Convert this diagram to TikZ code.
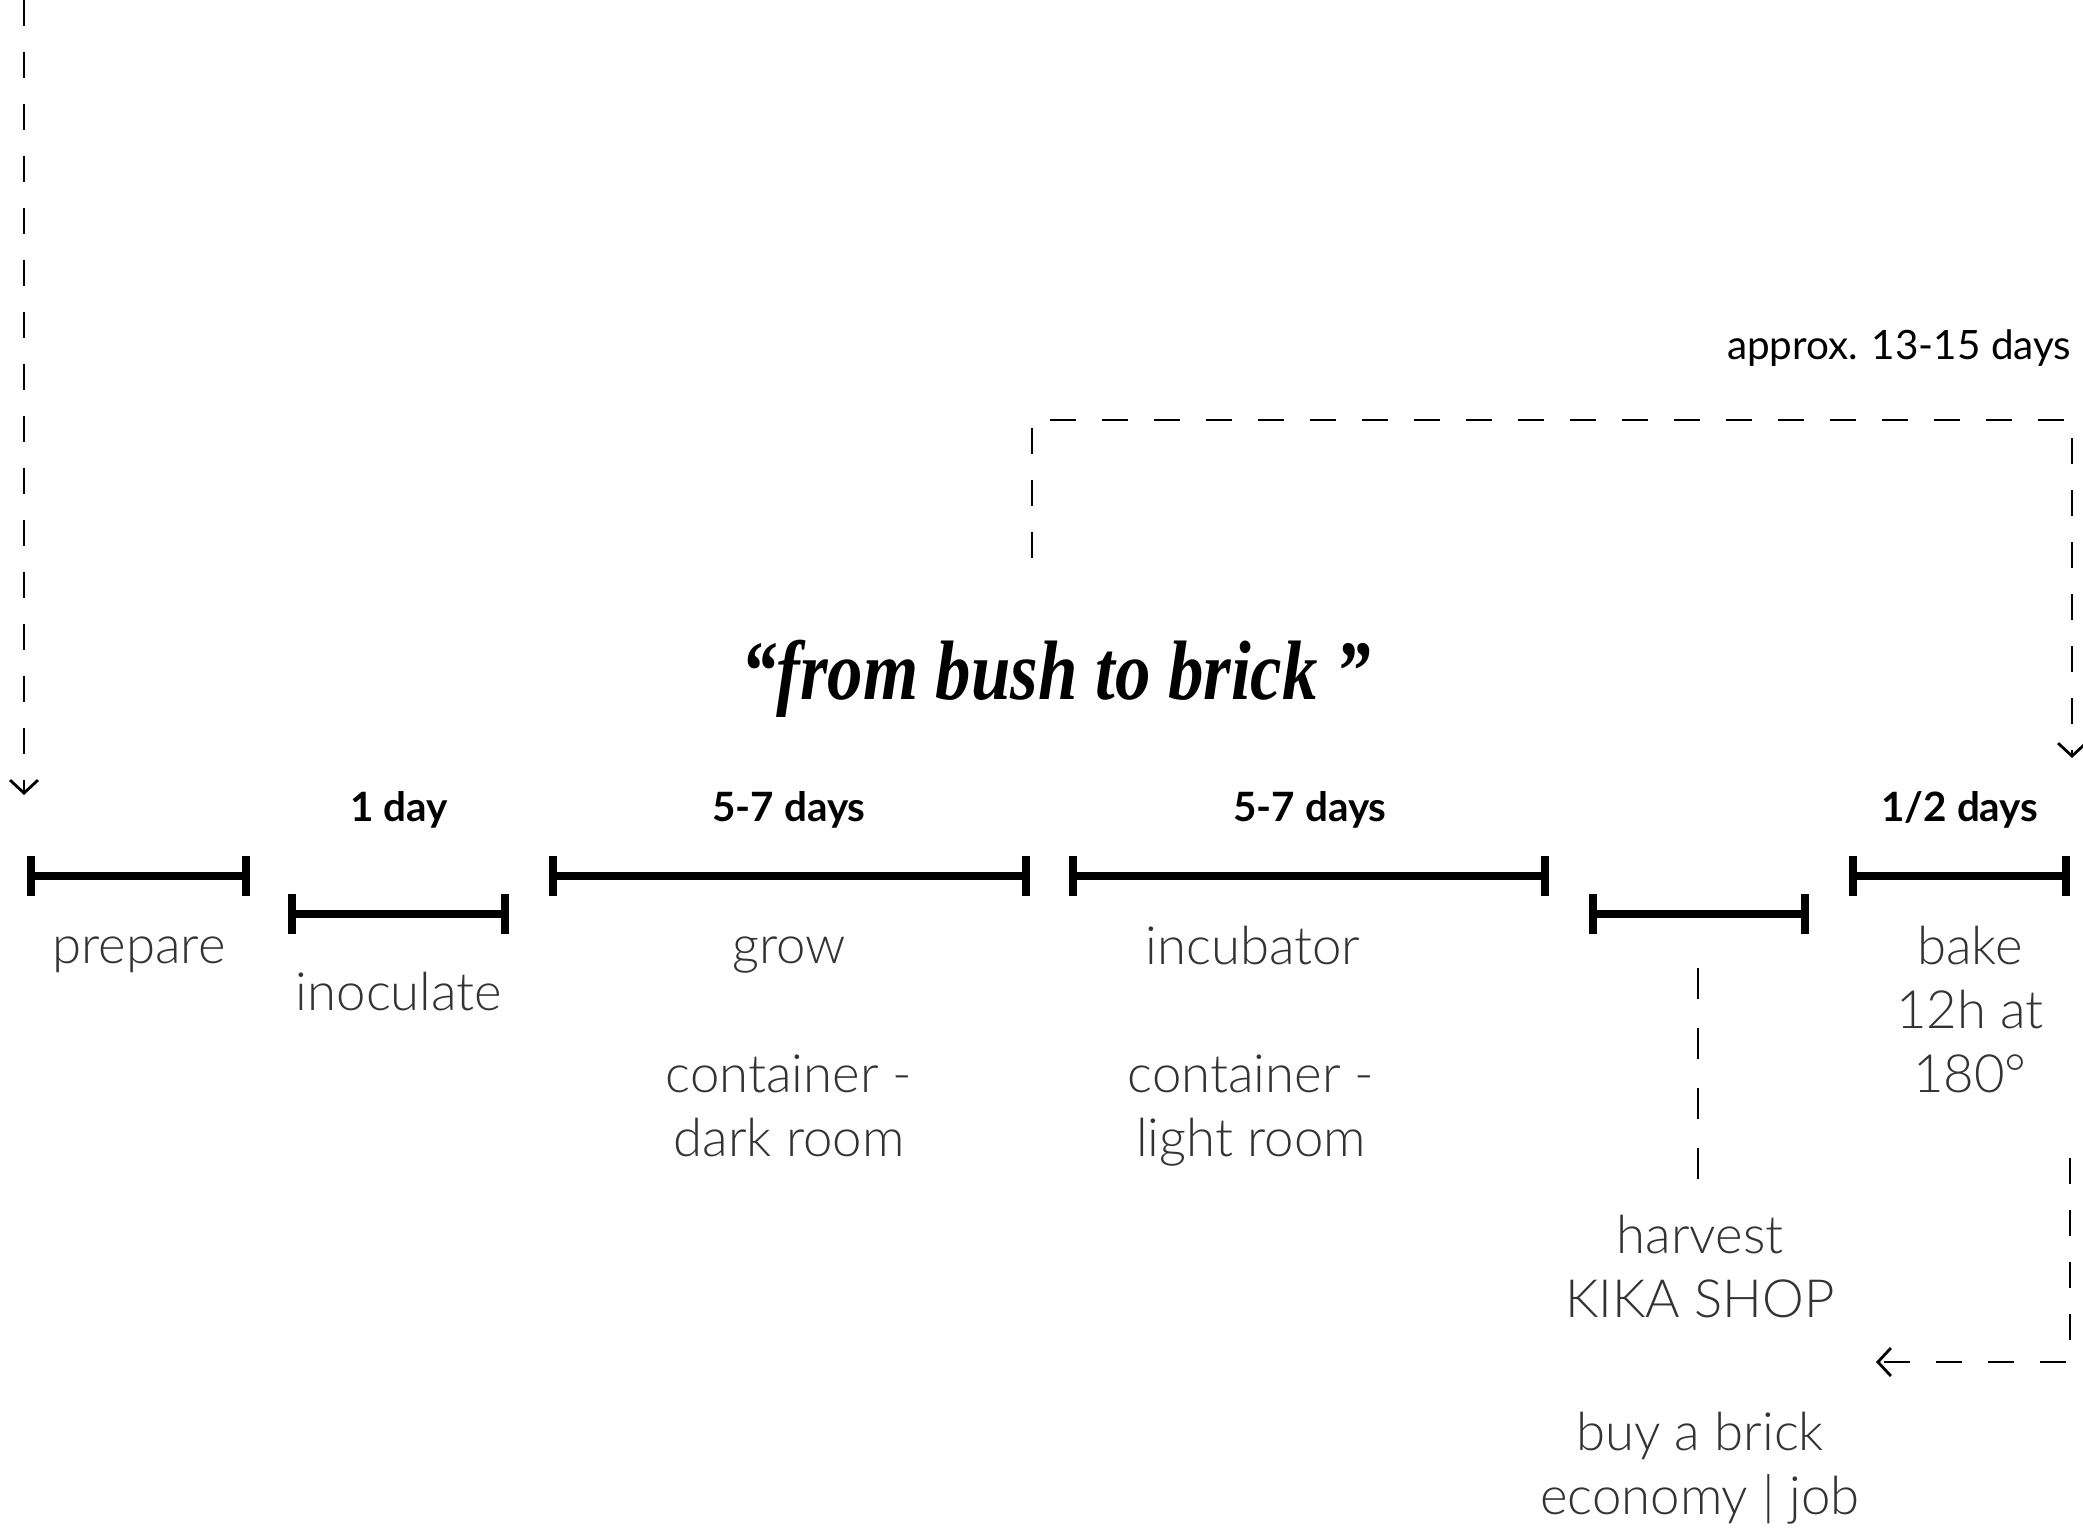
\documentclass[tikz,border=0pt]{standalone}
\usepackage{fontspec}
\usetikzlibrary{arrows.meta}
\newfontfamily\latothin{Lato Light}
\newfontfamily\latobold{Lato}[UprightFont=* Bold]
\newfontfamily\latoreg{Lato}
\newfontfamily\titlefont{Liberation Serif}

\begin{document}
\begin{tikzpicture}
  [every node/.style={inner sep=0pt,align=center},
   phase/.style={line width=2pt,{Bar[width=4mm,line width=2.4pt]}-{Bar[width=4mm,line width=2.4pt]}},
   trail/.style={line width=0.8pt,dash pattern=on 2.6mm off 2.6mm},
   tip/.style={-{Straight Barb[length=1.3mm,width=2.8mm,line width=0.8pt]}},
   duration/.style={font=\latobold\fontsize{11.5}{14}\selectfont},
   stage/.style={font=\latothin\fontsize{15}{18.2}\selectfont,text=black!80}]
  \useasboundingbox (0,0) rectangle (20.83,15.32);

  % phases on the time line
  \foreach \name/\from/\to/\y in {prep/0.27/2.50/6.56, inoc/2.88/5.09/6.18, grow/5.49/10.30/6.56,
      incu/10.69/15.49/6.56, harv/15.89/18.09/6.18, bake/18.49/20.70/6.56}
  {
    \coordinate (\name L) at (\from,\y);
    \coordinate (\name R) at (\to,\y);
    \draw[phase] (\name L) -- (\name R);
  }

  \node[duration] (d1) at (3.99,7.22) {1 day};
  \node[duration] (d2) at (7.89,7.22) {5-7 days};
  \node[duration] (d3) at (13.10,7.22) {5-7 days};
  \node[duration] (d4) at (19.60,7.22) {1/2 days};
  \node[font=\latoreg\fontsize{11.5}{14}\selectfont,anchor=east] (total) at (20.72,11.84) {approx. 13-15 days};

  \node[stage] (s1) at (1.39,5.77) {prepare};
  \node[stage] (s2) at (3.99,5.40) {inoculate};
  \node[stage] (s3) at (7.89,5.77) {grow};
  \node[stage] (s3b) at (7.89,4.26) {container -\\dark room};
  \node[stage] (s4) at (12.53,5.86) {incubator};
  \node[stage] (s4b) at (12.51,4.21) {container -\\light room};
  \node[stage] (s6) at (19.70,5.22) {bake\\12h at\\180°};
  \node[stage] (s5) at (17.00,2.65) {harvest\\KIKA SHOP};
  \node[stage] (s5b) at (17.00,0.64) {buy a brick\\economy | job};

  \node[font=\titlefont\bfseries\itshape\fontsize{24}{28}\selectfont,xscale=0.84,transform shape] (title) at (10.56,8.53) {“from bush to brick ”};

  % dashed links
  \coordinate (top) at (0.24,15.32);
  \coordinate (start) at (0.24,7.37);
  \coordinate (loopA) at (10.32,9.74);
  \coordinate (loopB) at (10.32,11.12);
  \coordinate (loopC) at (20.72,11.12);
  \coordinate (loopD) at (20.72,7.74);
  \coordinate (shopA) at (16.98,5.64);
  \coordinate (shopB) at (16.98,3.53);
  \coordinate (backA) at (20.70,3.74);
  \coordinate (backB) at (20.70,1.70);
  \coordinate (backC) at (18.76,1.70);

  \draw[trail,tip] (top) -- (start);
  \draw[trail,tip] (loopA) -- (loopB) -- (loopC) -- (loopD);
  \draw[trail,dash pattern=on 3.1mm off 2.9mm] (shopA) -- (shopB);
  \draw[trail,tip] (backA) -- (backB) -- (backC);

\end{tikzpicture}
\end{document}
